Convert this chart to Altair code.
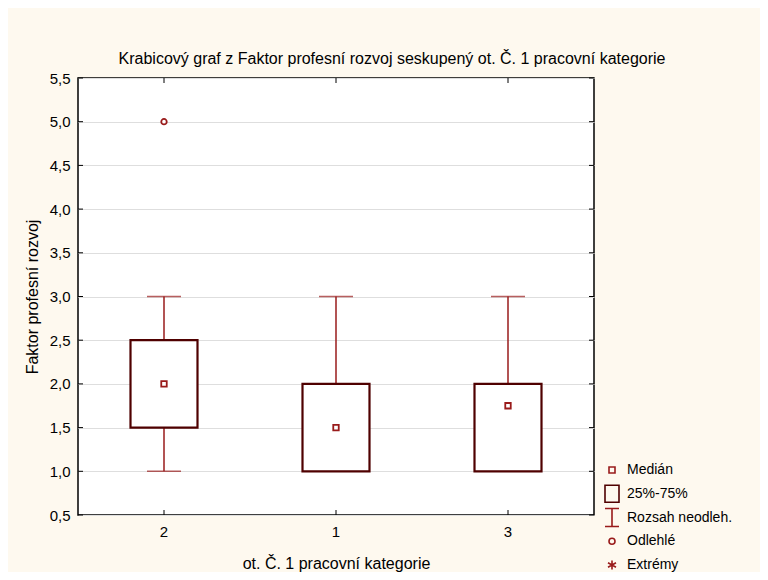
import altair as alt
import pandas as pd

categories = ["2", "1", "3"]
q1 = [1.5, 1.0, 1.0]
q3 = [2.5, 2.0, 2.0]
medians = [2.0, 1.5, 1.75]
whisker_low = [1.0, 1.0, 1.0]
whisker_high = [3.0, 3.0, 3.0]
outlier_cat = ["2"]
outlier_val = [5.0]
y_ticks = [0.5, 1.0, 1.5, 2.0, 2.5, 3.0, 3.5, 4.0, 4.5, 5.0, 5.5]
legend_items = ["Medián", "25%-75%", "Rozsah neodleh.", "Odlehlé", "Extrémy"]

W, H = 516, 437
FONT = "Liberation Sans"
BOX_C = "#4f0000"
RED = "#991b1b"

df = pd.DataFrame({"cat": categories, "q1": q1, "q3": q3, "med": medians,
                   "lo": whisker_low, "hi": whisker_high})
out_df = pd.DataFrame({"cat": outlier_cat, "val": outlier_val})
tick_df = pd.DataFrame({"v": y_ticks})
leg_df = pd.DataFrame({"item": legend_items})

xscale = alt.Scale(domain=categories, paddingInner=0, paddingOuter=0)
yscale = alt.Scale(domain=[0.5, 5.5], nice=False, zero=False)

xenc = alt.X("cat:N", scale=xscale, sort=categories,
             axis=alt.Axis(title="ot. Č. 1 pracovní kategorie", labelAngle=0,
                           tickSize=0, domain=False, labelPadding=9,
                           titlePadding=16, labelFont=FONT, titleFont=FONT,
                           labelFontSize=15, titleFontSize=16,
                           titleFontWeight="normal", labelColor="black",
                           titleColor="black"))
yaxis = alt.Axis(title="Faktor profesní rozvoj", values=y_ticks, tickSize=0,
                 domain=False, grid=True, gridColor="#dedede", gridWidth=1,
                 labelExpr="replace(format(datum.value, '.1f'), '.', ',')",
                 labelPadding=8, titlePadding=9, labelFont=FONT, titleFont=FONT,
                 labelFontSize=15, titleFontSize=16, titleFontWeight="normal",
                 labelColor="black", titleColor="black")

base = alt.Chart(df)

whisk = base.mark_rule(color=RED, strokeWidth=1.5).encode(
    x=xenc, y=alt.Y("lo:Q", scale=yscale, axis=yaxis), y2="hi:Q")
cap_lo = base.mark_tick(color=RED, size=34, thickness=1.5, orient="horizontal").encode(
    x=alt.X("cat:N", scale=xscale, sort=categories), y=alt.Y("lo:Q", scale=yscale))
cap_hi = base.mark_tick(color=RED, size=34, thickness=1.5, orient="horizontal").encode(
    x=alt.X("cat:N", scale=xscale, sort=categories), y=alt.Y("hi:Q", scale=yscale))
box = base.mark_bar(size=67, fill="white", stroke=BOX_C, strokeWidth=2.2).encode(
    x=alt.X("cat:N", scale=xscale, sort=categories), y=alt.Y("q1:Q", scale=yscale), y2="q3:Q")
med = base.mark_point(shape="square", size=30, filled=False, color=RED,
                      fill="white", strokeWidth=1.8, opacity=1).encode(
    x=alt.X("cat:N", scale=xscale, sort=categories), y=alt.Y("med:Q", scale=yscale))
outl = alt.Chart(out_df).mark_point(shape="circle", size=30, filled=False, color=RED,
                                    fill="white", strokeWidth=1.8, opacity=1).encode(
    x=alt.X("cat:N", scale=xscale, sort=categories), y=alt.Y("val:Q", scale=yscale))

# inward ticks
ytick_l = alt.Chart(tick_df).mark_rule(color="black", strokeWidth=1).encode(
    y=alt.Y("v:Q", scale=yscale), x=alt.value(0), x2=alt.value(5))
ytick_r = alt.Chart(tick_df).mark_rule(color="black", strokeWidth=1).encode(
    y=alt.Y("v:Q", scale=yscale), x=alt.value(W - 5), x2=alt.value(W))
xtick_b = base.mark_rule(color="black", strokeWidth=1).encode(
    x=alt.X("cat:N", scale=xscale, sort=categories), y=alt.value(H - 5), y2=alt.value(H))
xtick_t = base.mark_rule(color="black", strokeWidth=1).encode(
    x=alt.X("cat:N", scale=xscale, sort=categories), y=alt.value(0), y2=alt.value(5))

# legend, drawn as marks laid out in pixel space to the right of the plot
paths = [
    "M-0.3,-0.3H0.3V0.3H-0.3Z",
    "M-0.7,-0.85H0.7V0.85H-0.7Z",
    "M-0.7,-0.9H0.7M0,-0.9V0.9M-0.7,0.9H0.7",
    "M-0.3,0A0.3,0.3 0 1,0 0.3,0A0.3,0.3 0 1,0 -0.3,0",
    "M0,-0.45V0.45M-0.4,-0.22L0.4,0.22M-0.4,0.22L0.4,-0.22",
]
leg_colors = [RED, BOX_C, RED, RED, RED]
LEG_TOP, LEG_STEP = 392, 23.75

leg_base = alt.Chart(leg_df).transform_window(
    idx="row_number()"
).transform_calculate(
    ypx=f"{LEG_TOP} + (datum.idx - 1) * {LEG_STEP}"
)
leg_sym = leg_base.mark_point(filled=False, size=400, strokeWidth=1.6, opacity=1).encode(
    x=alt.value(534),
    y=alt.Y("ypx:Q", scale=None),
    shape=alt.Shape("item:N", scale=alt.Scale(domain=legend_items, range=paths), legend=None),
    color=alt.Color("item:N", scale=alt.Scale(domain=legend_items, range=leg_colors), legend=None),
)
leg_txt = leg_base.mark_text(align="left", baseline="middle", font=FONT, fontSize=14,
                             color="black").encode(
    x=alt.value(549),
    y=alt.Y("ypx:Q", scale=None),
    text="item:N",
)

chart = alt.layer(whisk, cap_lo, cap_hi, box, med, outl,
                  ytick_l, ytick_r, xtick_b, xtick_t, leg_sym, leg_txt).properties(
    width=W, height=H,
    title=alt.TitleParams(
        "Krabicový graf  z Faktor profesní rozvoj seskupený ot. Č. 1 pracovní kategorie",
        font=FONT, fontSize=16, fontWeight="normal", color="black",
        anchor="middle", frame="group", dx=56, offset=4),
    autosize=alt.AutoSizeParams(type="none"),
    padding={"left": 70, "top": 70, "right": 166, "bottom": 57},
    background="#FEF9EF",
).configure_view(fill="white", stroke="black", strokeWidth=1.5)

chart.save("out.html", embed_options={"renderer": "svg", "actions": False})
